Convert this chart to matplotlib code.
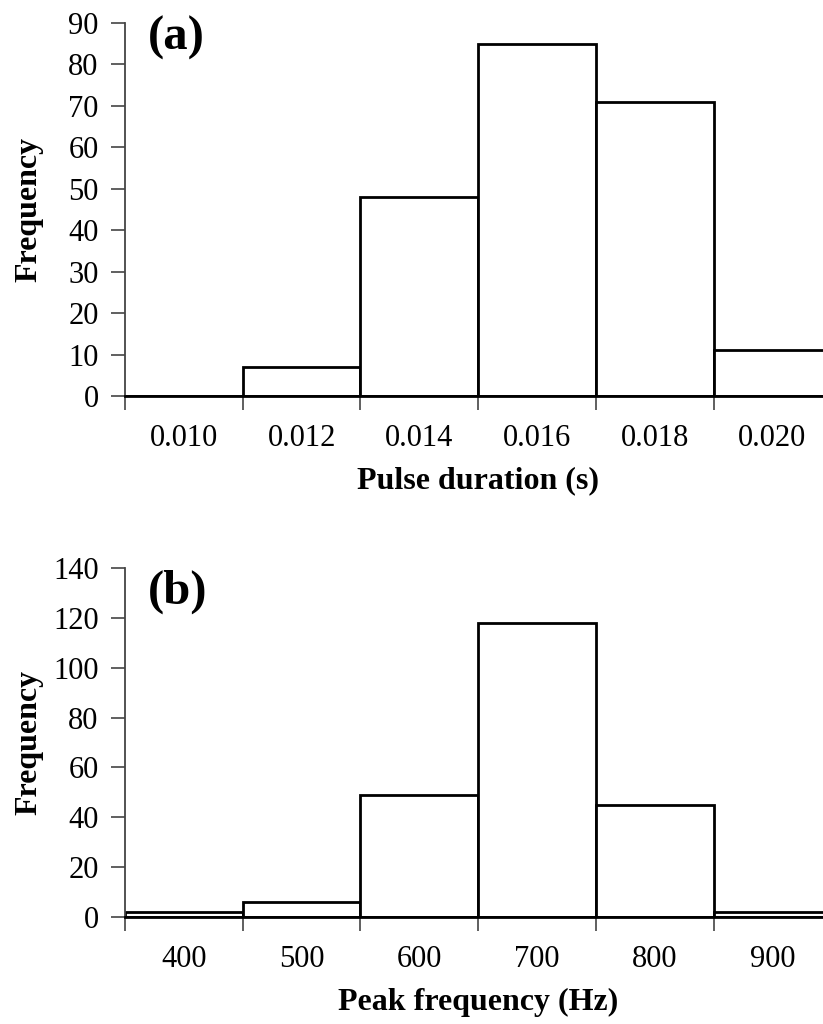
import numpy as np
import matplotlib.pyplot as plt

plt.rcParams['font.family'] = ['Liberation Serif', 'DejaVu Serif']

# panel (a): pulse duration histogram
dur_labels = ['0.010', '0.012', '0.014', '0.016', '0.018', '0.020']
dur_counts = [0, 7, 48, 85, 71, 11]

# panel (b): peak frequency histogram
freq_labels = ['400', '500', '600', '700', '800', '900']
freq_counts = [2, 6, 49, 118, 45, 2]

fig = plt.figure(figsize=(8.23, 10.24), dpi=100)

def draw_panel(ax, labels, counts, ymax, ystep, xlabel, tag, tag_y):
    x = np.arange(len(labels))
    ax.bar(x, counts, width=1.0, color='white', edgecolor='black', linewidth=2.0, zorder=2)
    ax.set_xlim(-0.5, len(labels) - 0.5)
    ax.set_ylim(0, ymax)
    ax.set_yticks(np.arange(0, ymax + 1, ystep))
    # tick marks sit on the bin edges, labels in the bin centres
    ax.set_xticks(np.arange(len(labels) + 1) - 0.5)
    ax.set_xticklabels([])
    ax.set_xticks(x, minor=True)
    ax.set_xticklabels(labels, minor=True)
    ax.tick_params(axis='x', which='major', direction='out', length=10, width=1.2, color='#444444')
    ax.tick_params(axis='x', which='minor', length=0, pad=20, labelsize=22)
    ax.tick_params(axis='y', direction='out', length=10, width=1.2, color='#444444', pad=9, labelsize=22)
    for s in ['top', 'right']:
        ax.spines[s].set_visible(False)
    ax.spines['left'].set_color('#444444')
    ax.spines['left'].set_linewidth(1.3)
    ax.spines['bottom'].set_color('black')
    ax.spines['bottom'].set_linewidth(2.0)
    ax.set_xlabel(xlabel, fontsize=23, fontweight='bold', labelpad=10)
    ax.set_ylabel('Frequency', fontsize=23, fontweight='bold')
    ax.yaxis.set_label_coords(-0.116, 0.5)
    ax.text(0.032, tag_y, tag, transform=ax.transAxes, fontsize=35, fontweight='bold',
            va='top', ha='left')

ax1 = fig.add_axes([0.152, 0.6133, 0.858, 0.3642])
draw_panel(ax1, dur_labels, dur_counts, 90, 10, 'Pulse duration (s)', '(a)', 1.02)

ax2 = fig.add_axes([0.152, 0.1045, 0.858, 0.3408])
draw_panel(ax2, freq_labels, freq_counts, 140, 20, 'Peak frequency (Hz)', '(b)', 0.995)

fig.savefig('out.png', dpi=100)
